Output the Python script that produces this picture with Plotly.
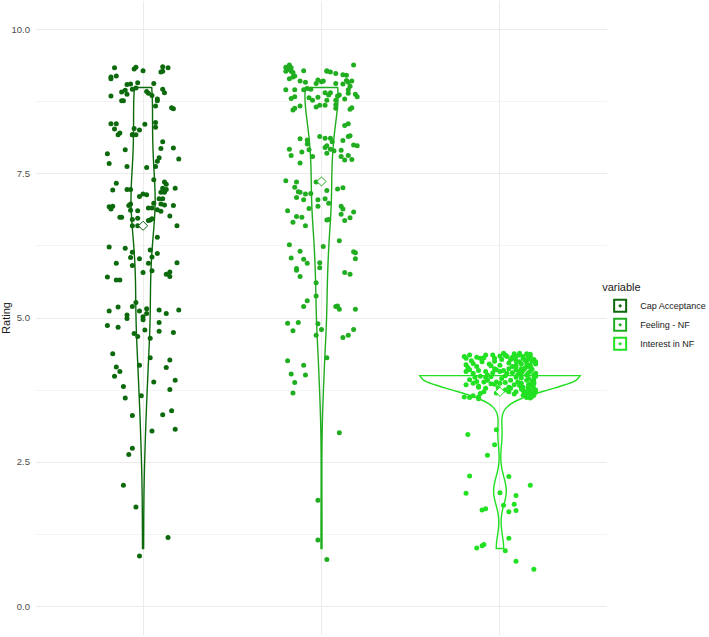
import numpy as np
import plotly.graph_objects as go

# ---------------- data ----------------
categories = ["Cap Acceptance", "Feeling - NF", "Interest in NF"]
colors = ["#0c6a0c", "#20ad20", "#22e022"]

# jittered ratings as plotted (y) and horizontal jitter offsets (category units)
cap_rating = [9.34, 9.32, 9.35, 9.29, 9.36, 9.34, 9.27, 9.28, 9.18, 9.15, 9.20, 9.05, 9.06, 9.08, 9.07,
              8.95, 8.92, 8.97, 8.99, 8.93, 8.90, 8.86, 8.97, 8.91, 8.85, 8.88, 8.77, 8.77, 8.80, 8.77,
              8.68, 8.65, 8.63, 8.37, 8.37, 8.28, 8.21, 8.18, 8.29, 8.18, 8.18, 8.18, 8.26, 8.36, 8.39,
              8.31, 8.06, 7.94, 7.95, 7.92, 7.85, 7.78, 7.76, 7.72, 7.68, 7.61, 7.63, 7.63, 7.40, 7.34,
              7.36, 7.32, 7.22, 7.23, 7.23, 7.25, 7.23, 7.25, 7.18, 7.18, 7.11, 7.15, 7.14, 7.07, 7.07,
              6.98, 6.96, 6.95, 6.93, 6.89, 6.94, 6.95, 6.87, 6.98, 6.86, 6.91, 6.91, 6.88, 6.99, 6.85,
              6.77, 6.75, 6.75, 6.71, 6.73, 6.69, 6.70, 6.72, 6.60, 6.60, 6.60, 6.40, 6.23, 6.21, 6.18,
              6.14, 6.12, 6.05, 6.03, 6.06, 5.95, 5.95, 5.96, 5.91, 5.82, 5.79, 5.80, 5.76, 5.72, 5.71,
              5.66, 5.66,
              5.12, 5.19, 5.20, 5.27, 5.12, 5.02, 4.97, 5.08, 5.16, 5.05, 4.99, 5.14, 5.08, 5.14, 4.87,
              4.84, 4.73, 4.68, 4.79, 4.65, 4.92, 4.77, 4.75, 4.38, 4.15, 4.07, 3.99, 3.81, 3.61, 4.18,
              4.31, 3.89, 3.65, 4.14, 4.27, 3.92, 3.76, 3.31, 3.32, 3.39, 3.04, 3.07, 2.74, 2.63, 2.10,
              1.72, 1.19, 0.87]
cap_jitter = [-0.16, -0.05, -0.04, 0.00, 0.11, 0.14, 0.10, 0.11, -0.18, -0.18, -0.15, -0.09, -0.07, -0.03, 0.06,
              -0.10, -0.12, -0.06, -0.04, 0.02, 0.03, 0.05, 0.11, 0.12, -0.18, -0.09, -0.12, -0.11, 0.08, 0.08,
              0.07, 0.16, 0.17, -0.18, -0.15, -0.16, -0.13, -0.14, -0.05, -0.06, -0.06, -0.04, -0.02, 0.01, 0.07,
              0.07, 0.11, 0.10, 0.17, -0.10, -0.20, 0.09, 0.20, 0.08, -0.19, 0.02, -0.09, 0.07, 0.06, -0.15,
              0.12, 0.13, -0.17, -0.09, -0.07, 0.11, 0.13, 0.18, 0.10, 0.12, -0.02, 0.00, 0.02, 0.11, 0.09,
              0.10, 0.12, 0.17, -0.19, -0.18, -0.17, -0.08, -0.07, -0.07, -0.03, 0.03, 0.05, 0.08, 0.06, 0.10,
              0.15, -0.13, -0.12, -0.06, -0.03, 0.03, 0.04, 0.05, -0.06, -0.03, 0.19, 0.08, -0.19, -0.10, 0.04,
              -0.06, 0.08, -0.07, -0.02, 0.05, -0.15, 0.03, 0.19, -0.06, 0.05, 0.00, 0.15, 0.13, 0.15, -0.20,
              -0.15, -0.13,
              -0.19, -0.14, -0.06, -0.04, -0.02, 0.00, 0.00, 0.02, 0.02, -0.09, -0.09, 0.09, 0.13, 0.20, -0.20,
              -0.14, -0.05, -0.03, 0.01, 0.04, 0.09, 0.09, 0.17, -0.17, -0.15, -0.13, -0.16, -0.11, -0.10, -0.02,
              0.04, 0.06, -0.01, 0.13, 0.15, 0.18, 0.15, -0.06, 0.11, 0.16, 0.05, 0.18, -0.06, -0.08, -0.11,
              -0.04, 0.14, -0.02]

feel_rating = [9.39, 9.39, 9.35, 9.31, 9.34, 9.28, 9.28, 9.26, 9.20, 9.18, 9.15, 9.29, 9.29, 9.28, 9.27,
               9.24, 9.22, 9.21, 9.11, 9.09, 9.13, 9.10, 9.11, 9.07, 9.07, 9.06, 9.12, 9.09, 9.11, 9.02,
               8.96, 8.90,
               8.96, 8.96, 8.84, 8.81, 8.96, 8.98, 8.97, 8.82, 8.78, 8.83, 8.91, 8.87, 8.91, 8.78, 8.85,
               8.87, 8.78, 8.80, 8.88, 8.84,
               8.68, 8.64, 8.61, 8.66, 8.69, 8.69, 8.64, 8.70, 8.62, 8.65,
               8.34, 8.37,
               8.11, 8.09, 8.02, 8.15, 8.12, 8.12, 8.06, 7.99, 7.96, 7.93, 8.08, 8.15, 8.16, 8.00, 7.99,
               7.93, 7.82, 7.88, 7.92, 7.80, 7.86, 7.90, 7.91, 7.80, 7.74, 7.82, 7.75, 7.69,
               7.38, 7.36, 7.27, 7.19, 7.18, 7.15, 7.16, 7.36, 7.21, 7.24, 7.26, 7.09, 7.05, 7.05, 7.07, 6.99,
               6.86, 6.76, 6.66, 6.75, 6.90, 6.94, 6.70, 6.71, 6.60, 6.94, 6.89, 6.80, 6.69, 6.74, 6.84,
               6.27, 6.16, 6.04, 6.02, 5.95, 5.86, 5.83, 5.72, 6.24, 5.96, 5.87, 6.34, 5.79, 5.76, 6.15,
               6.13, 6.03,
               5.61, 5.38, 5.30, 5.20, 5.20, 5.21, 5.15, 5.15,
               4.91, 4.92, 4.78, 4.90, 4.80, 4.70, 4.66, 4.70, 4.80, 4.26, 4.18, 4.03, 4.01, 3.88, 3.70,
               4.31, 3.01, 1.84, 1.15, 0.81]
feel_jitter = [0.18, -0.18, -0.20, -0.19, -0.17, -0.20, -0.17, -0.16, -0.15, -0.16, -0.18, -0.10, 0.03, 0.03, 0.05,
               0.08, 0.12, 0.14, -0.12, -0.09, -0.02, 0.00, 0.01, -0.03, 0.08, 0.12, 0.14, 0.15, 0.17, 0.16,
               0.15, 0.15,
               -0.20, -0.15, -0.15, -0.17, -0.10, -0.08, -0.06, -0.07, -0.05, -0.02, 0.02, 0.04, 0.05, 0.03, 0.09,
               0.10, 0.08, 0.13, 0.19, 0.20,
               -0.12, -0.15, -0.16, -0.03, -0.01, 0.02, 0.08, 0.08, 0.16, 0.17,
               0.13, 0.15,
               -0.12, -0.08, -0.08, -0.01, 0.02, 0.05, 0.06, 0.03, 0.02, 0.05, 0.12, 0.15, 0.16, 0.18, 0.20,
               -0.18, -0.17, -0.11, -0.07, -0.05, 0.03, 0.07, 0.11, 0.11, 0.13, 0.15, 0.17, -0.12,
               -0.20, -0.14, -0.15, -0.13, -0.12, -0.09, -0.06, -0.03, 0.03, 0.09, 0.12, -0.14, -0.10, -0.02, 0.02, 0.04,
               -0.19, -0.14, -0.16, -0.11, -0.07, -0.02, 0.03, 0.04, -0.09, 0.11, 0.12, 0.11, 0.13, 0.16, 0.18,
               -0.18, -0.12, -0.17, -0.10, -0.08, -0.14, -0.14, -0.12, 0.01, -0.01, -0.01, 0.10, 0.13, 0.16, 0.18,
               0.19, 0.19,
               -0.03, -0.03, -0.08, -0.10, 0.08, 0.09, 0.10, 0.19,
               -0.19, -0.13, -0.16, -0.02, 0.00, -0.03, 0.12, 0.15, 0.18, -0.19, -0.10, -0.17, -0.09, -0.15, -0.16,
               0.03, 0.10, -0.02, -0.02, 0.03]

int_rating = [4.33, 4.30, 4.36, 4.32, 4.30, 4.36, 4.36, 4.30, 4.39, 4.36, 4.33, 4.28, 4.30, 4.33, 4.36,
              4.33, 4.38, 4.34, 4.33, 4.28, 4.24, 4.24, 4.22, 4.21, 4.35, 4.32, 4.37, 4.39,
              4.26, 4.20, 4.18, 4.22, 4.18, 4.18, 4.17, 4.27, 4.25, 4.19, 4.24, 4.20, 4.16, 4.26, 4.25,
              4.20, 4.16, 4.28, 4.29, 4.16,
              4.07, 4.10, 4.04, 4.09, 4.07, 4.01, 3.98, 4.10, 4.07, 4.09, 4.04, 4.05, 4.10, 4.07, 4.04,
              4.09, 4.01, 4.07, 4.04, 3.99, 4.12, 4.15, 4.15, 3.97, 3.99, 3.97, 4.11, 4.13, 4.12, 4.12, 4.01,
              3.84, 3.87, 3.82, 3.89, 3.92, 3.89, 3.87, 3.88, 3.92, 3.84, 3.89, 3.87, 3.92, 3.85, 3.89,
              3.80, 3.85, 3.80, 3.80, 3.95, 3.96, 3.97, 3.93, 3.94, 3.95, 3.90, 3.84, 3.86,
              3.63, 3.62, 3.65, 3.63, 3.69, 3.72, 3.70, 3.75, 3.72, 3.72, 3.66, 3.62, 3.68, 3.70, 3.75,
              3.60, 3.69, 3.73, 3.78, 3.76, 3.71, 3.72, 3.77, 3.66, 3.64, 3.61, 3.78, 3.78, 3.80, 3.82,
              4.14, 4.31, 4.34, 4.38, 4.30, 4.05, 4.00, 4.02, 4.05, 3.90, 3.83, 3.86, 3.68, 3.74, 3.79,
              2.98, 3.06, 2.80, 2.62, 2.26, 2.25, 2.10, 1.96, 1.97, 1.92, 1.75, 1.77, 1.67, 1.69, 1.64,
              1.66, 1.18, 1.07, 1.05, 1.01, 0.96, 0.78, 0.64]
int_jitter = [-0.20, -0.19, -0.17, -0.13, -0.11, -0.08, -0.04, -0.03, 0.02, 0.03, 0.04, 0.06, 0.08, 0.09, 0.11,
              0.13, 0.15, 0.16, 0.17, 0.19, 0.20, 0.11, 0.15, -0.15, 0.03, 0.07, 0.17, 0.11,
              -0.16, -0.06, 0.00, 0.05, 0.09, 0.17, -0.05, 0.14, 0.18, -0.19, -0.10, 0.12, 0.15, 0.09, -0.03,
              0.20, -0.13, 0.01, 0.16, 0.07,
              -0.19, -0.17, -0.15, -0.12, -0.08, -0.07, -0.05, -0.02, 0.00, 0.02, 0.04, 0.07, 0.09, 0.11, 0.12,
              0.13, 0.15, 0.17, 0.20, 0.20, -0.03, 0.09, 0.17, -0.14, -0.11, -0.08, 0.18, 0.14, 0.05, 0.12, 0.19,
              -0.19, -0.15, -0.12, -0.09, -0.07, -0.02, 0.00, 0.03, 0.06, 0.08, 0.10, 0.12, 0.15, 0.17, 0.19,
              -0.12, -0.03, 0.05, 0.13, 0.16, 0.12, 0.09, -0.17, 0.19, 0.01, 0.18, 0.16, -0.05,
              -0.20, -0.17, -0.15, -0.12, -0.11, -0.09, -0.02, 0.03, 0.05, 0.09, 0.13, 0.15, 0.16, 0.18, 0.20,
              -0.12, 0.15, 0.17, 0.19, 0.16, 0.20, 0.14, 0.12, 0.19, 0.18, 0.17, 0.06, -0.08, 0.16, 0.18,
              -0.18, -0.09, 0.00, 0.08, 0.13, -0.04, 0.03, 0.10, 0.16, -0.13, 0.11, 0.19, 0.08, 0.13, -0.01,
              -0.18, -0.02, -0.03, -0.07, -0.17, 0.05, 0.17, -0.19, 0.00, 0.09, 0.02, 0.08, -0.10, -0.08, 0.05,
              0.09, 0.05, -0.09, -0.10, -0.13, 0.03, 0.09, 0.19]

ratings = [cap_rating, feel_rating, int_rating]
jitters = [cap_jitter, feel_jitter, int_jitter]


def nrd0(x):
    x = np.asarray(x, dtype=float)
    hi = np.std(x, ddof=1)
    q75, q25 = np.percentile(x, [75, 25])
    lo = min(hi, (q75 - q25) / 1.34)
    if lo == 0:
        lo = hi or abs(x[0]) or 1.0
    return 0.9 * lo * len(x) ** -0.2


fig = go.Figure()

for i, (name, col) in enumerate(zip(categories, colors)):
    pos = i + 1
    raw = np.round(np.asarray(ratings[i]))  # underlying integer answers
    fig.add_trace(go.Violin(
        x0=pos, y=raw, name=name, scalegroup="all", scalemode="width",
        spanmode="hard", bandwidth=nrd0(raw), points=False,
        line=dict(color=col, width=1.4), fillcolor="rgba(0,0,0,0)",
        showlegend=False, hoverinfo="skip"))

for i, (name, col) in enumerate(zip(categories, colors)):
    pos = i + 1
    fig.add_trace(go.Scatter(
        x=pos + np.asarray(jitters[i]), y=ratings[i], mode="markers",
        marker=dict(size=5, color=col, line=dict(width=0)),
        showlegend=False, hoverinfo="skip"))

for i, (name, col) in enumerate(zip(categories, colors)):
    pos = i + 1
    raw = np.round(np.asarray(ratings[i]))
    fig.add_trace(go.Scatter(
        x=[pos], y=[raw.mean()], mode="markers",
        marker=dict(symbol="diamond", size=7, color="white", line=dict(width=1, color=col)),
        showlegend=False, hoverinfo="skip"))

# legend keys
for name, col in zip(categories, colors):
    fig.add_trace(go.Scatter(
        x=[None], y=[None], mode="markers", name=name,
        marker=dict(symbol="square-open-dot", size=16, color=col, line=dict(width=1.8, color=col))))

fig.update_layout(
    width=709, height=637,
    margin=dict(l=36, r=102, t=1, b=2, autoexpand=False),
    paper_bgcolor="white", plot_bgcolor="white",
    violinmode="overlay", violingap=0.1, violingroupgap=0,
    font=dict(family="Liberation Sans, Arial, sans-serif", color="#1a1a1a"),
    legend=dict(x=0.988, xanchor="left", y=0.5, yanchor="middle",
                title=dict(text="variable", font=dict(size=11, color="#1a1a1a")),
                font=dict(size=9, color="#1a1a1a"), itemsizing="constant",
                tracegroupgap=0, bgcolor="rgba(0,0,0,0)"),
    xaxis=dict(range=[0.4, 3.6], tickvals=[1, 2, 3], showticklabels=False,
               showgrid=True, gridcolor="#ebebeb", gridwidth=1, zeroline=False,
               showline=False, ticks=""),
    yaxis=dict(range=[-0.5, 10.5], tickvals=[0, 2.5, 5, 7.5, 10], tickformat=".1f",
               showgrid=True, gridcolor="#ebebeb", gridwidth=1, zeroline=False,
               showline=False, ticks="", ticklabelstandoff=5,
               tickfont=dict(size=9.5, color="#4d4d4d"),
               minor=dict(tickvals=[1.25, 3.75, 6.25, 8.75], showgrid=True,
                          gridcolor="#f4f4f4", gridwidth=0.8),
               title=dict(text="Rating", font=dict(size=11, color="#1a1a1a"), standoff=4)),
)

fig.write_html("out.html")
